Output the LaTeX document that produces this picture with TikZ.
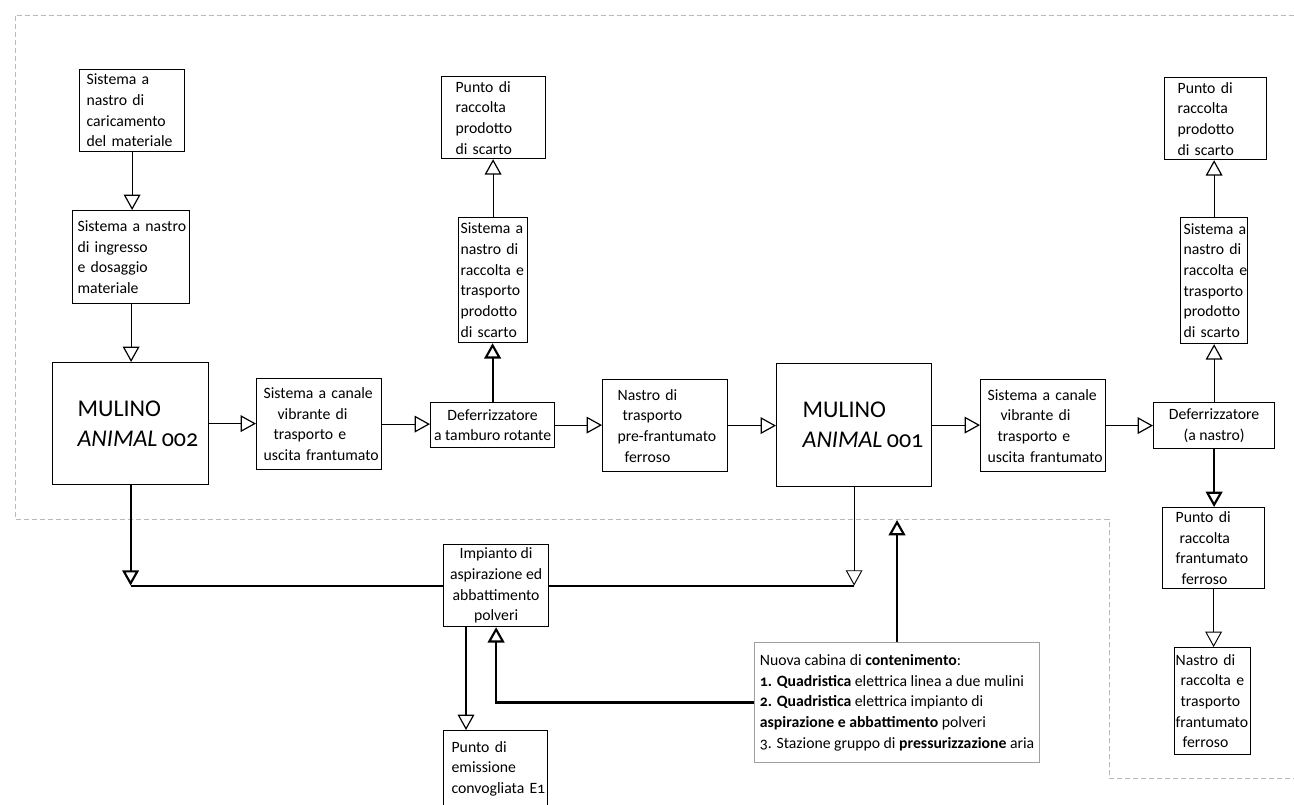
\documentclass[tikz,border=0pt]{standalone}
\usepackage{fontspec}
\setmainfont{Carlito}[Numbers=OldStyle]
\usetikzlibrary{arrows.meta,calc}
\newcommand{\txtfont}{\fontsize{11.8}{15.5}\selectfont\hyphenpenalty=10000\exhyphenpenalty=10000 }
\tikzset{
  bx/.style={draw, line width=0.9pt, inner sep=0pt, fill=white, anchor=north west, font=\txtfont},
  lft/.style={align=left},
  ctr/.style={align=center},
  mill/.style={bx, align=left, font=\fontsize{18}{22.5}\selectfont},
  arr/.style={line width=0.9pt, -{Triangle[open,length=11.5pt,width=12.5pt]}},
  arrthick/.style={arr, line width=1.6pt},
  ln/.style={line width=1.6pt},
  encl/.style={draw=gray!55, line width=0.7pt, dash pattern=on 4pt off 2pt},
  cab/.style={draw=gray!75, line width=0.8pt, inner sep=0pt, fill=white, anchor=north west, align=left, font=\txtfont}
}
\begin{document}
\begin{tikzpicture}[x=0.75pt, y=-0.75pt]
\useasboundingbox (0,0) rectangle (1294,805);
\clip (0,0) rectangle (1294,805);

% enclosure
\draw[encl] (1294,15) -- (15,15) -- (15,519) -- (1109,519) -- (1109,778) -- (1294,778);

% boxes
\node[bx, lft, minimum width=78.75pt, minimum height=61.5pt, text width=68.25pt] (A) at (79,69) {Sistema~a\\nastro~di\\caricamento\\del~materiale};
\node[bx, lft, minimum width=87.75pt, minimum height=69.75pt, text width=80.25pt] (B) at (72,210) {Sistema~a~nastro\\di~ingresso\\e~dosaggio\\materiale};
\node[mill, minimum width=117pt, minimum height=91.5pt, text width=79.5pt] (M2) at (52,362) {MULINO\\\mbox{\textit{ANIMAL}\hspace{0.18em}002}};
\node[bx, lft, minimum width=93.75pt, minimum height=68.25pt, text width=83.25pt] (C) at (256,378) {Sistema~a~canale\\\hspace*{10.5pt}vibrante~di\\\hspace*{7.5pt}trasporto~e\\uscita~frantumato};
\node[bx, ctr, minimum width=93pt, minimum height=33.75pt] (D) at (430,402) {Deferrizzatore\\a tamburo rotante};
\node[bx, lft, minimum width=78pt, minimum height=61.5pt, text width=57pt] (E) at (441,76) {Punto~di\\raccolta\\prodotto\\di~scarto};
\node[bx, lft, minimum width=51.75pt, minimum height=93.75pt, text width=48.75pt] (F) at (458,217) {Sistema~a\\nastro~di\\raccolta~e\\trasporto\\prodotto\\di~scarto};
\node[bx, lft, minimum width=93.75pt, minimum height=69pt, text width=71.25pt] (G) at (602,379) {Nastro~di\\\hspace*{3.75pt}trasporto\\pre-frantumato\\\hspace*{5.25pt}ferroso};
\node[mill, minimum width=116.25pt, minimum height=92.25pt, text width=77.25pt] (M1) at (776,363) {MULINO\\\mbox{\textit{ANIMAL}\hspace{0.18em}001}};
\node[bx, lft, minimum width=93.75pt, minimum height=69pt, text width=83.25pt] (H) at (980,379) {Sistema~a~canale\\\hspace*{9.75pt}vibrante~di\\\hspace*{7.5pt}trasporto~e\\uscita~frantumato};
\node[bx, ctr, minimum width=90.75pt, minimum height=34.5pt] (I) at (1153,402) {Deferrizzatore\\(a nastro)};
\node[bx, lft, minimum width=76.5pt, minimum height=61.5pt, text width=57pt] (J) at (1164,77) {Punto~di\\raccolta\\prodotto\\di~scarto};
\node[bx, lft, minimum width=50.25pt, minimum height=94.5pt, text width=45.75pt] (K) at (1180,217) {Sistema~a\\nastro~di\\raccolta~e\\trasporto\\prodotto\\di~scarto};
\node[bx, lft, minimum width=76.5pt, minimum height=60.75pt, text width=57pt] (L) at (1162,507) {Punto~di\\\hspace*{3pt}raccolta\\frantumato\\\hspace*{4.5pt}ferroso};
\node[bx, lft, minimum width=57pt, minimum height=80.25pt, text width=55.5pt] (N) at (1174,647) {Nastro~di\\\hspace*{3.75pt}raccolta~e\\\hspace*{3.75pt}trasporto\\frantumato\\\hspace*{5.25pt}ferroso};
\node[bx, ctr, minimum width=78.75pt, minimum height=61.5pt] (P) at (443,544) {Impianto di\\aspirazione ed\\abbattimento\\polveri};
\node[bx, lft, minimum width=78pt, minimum height=57pt, text width=66pt] (Q) at (443,730) {Punto~di\\emissione\\convogliata~E1};
\node[cab, minimum width=213.75pt, minimum height=90pt] (R) at (754,642) {Nuova cabina di \textbf{contenimento}:\\\textbf{1. Quadristica} elettrica linea a due mulini\\\textbf{2. Quadristica} elettrica impianto di\\\textbf{aspirazione e abbattimento} polveri\\3. Stazione gruppo di \textbf{pressurizzazione} aria};

\coordinate (ein) at (896,520);

% connectors
\draw[arr] (A.south) -- (A.south |- B.north);
\draw[arr] (B.south) -- (B.south |- M2.north);
\draw[arr] (M2.east) -- (M2.east -| C.west);
\draw[arr] (C.east) -- (C.east -| D.west);
\draw[arr] (D.east) -- (D.east -| G.west);
\draw[arr] (G.east) -- (G.east -| M1.west);
\draw[arr] (M1.east) -- (M1.east -| H.west);
\draw[arr] (H.east) -- (H.east -| I.west);
\draw[arrthick] (D.north) -- (D.north |- F.south);
\draw[arr] (F.north) -- (F.north |- E.south);
\draw[arr] (I.north) -- (I.north |- K.south);
\draw[arr] (K.north) -- (K.north |- J.south);
\draw[arrthick] (I.south) -- (I.south |- L.north);
\draw[arr, line width=0.7pt] (L.south) -- (L.south |- N.north);
\draw[arrthick] (M2.south) -- (M2.south |- P.west);
\draw[ln] (M2.south |- P.west) -- (P.west);
\draw[arr, line width=0.7pt] (M1.south) -- (M1.south |- P.east);
\draw[ln] (M1.south |- P.east) -- (P.east);
\draw[arr] ([xshift=17.25pt]P.south west) -- ([xshift=17.25pt]P.south west |- Q.north);
\draw[arrthick] (R.west) -| (P.south);
\draw[arrthick] (R.north) -- (R.north |- ein);
\end{tikzpicture}
\end{document}
